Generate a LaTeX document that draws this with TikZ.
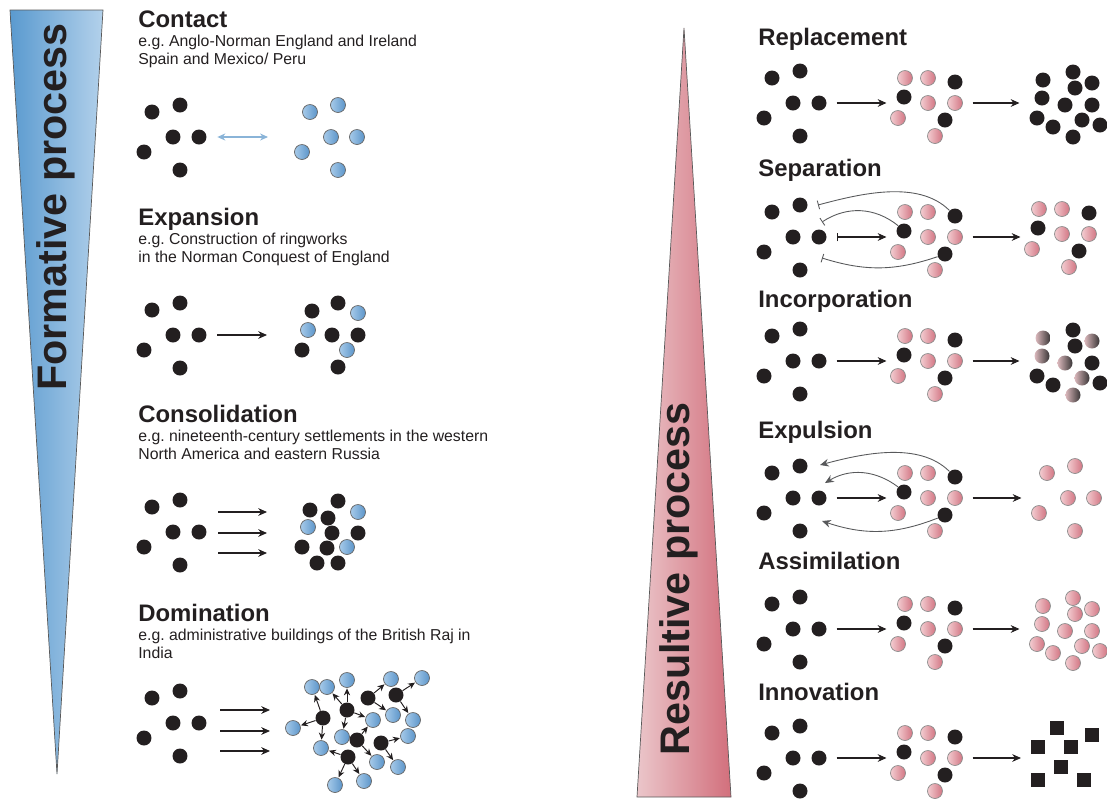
\documentclass[tikz,border=0pt]{standalone}
\usepackage{xcolor}
\usepackage{fontspec}
\setmainfont{Liberation Sans}
\usepackage{tikz}
\usetikzlibrary{arrows.meta, positioning, shapes.geometric}

\definecolor{ink}{HTML}{231F20}
\definecolor{wedgeblueL}{HTML}{5A9ACF}
\definecolor{wedgeblueR}{HTML}{B3D1EB}
\definecolor{wedgepinkL}{HTML}{EBC6CA}
\definecolor{wedgepinkR}{HTML}{D26F7C}
\definecolor{dotblueL}{HTML}{A6CAE9}
\definecolor{dotblueR}{HTML}{5B95CA}
\definecolor{dotpinkL}{HTML}{F3CDD1}
\definecolor{dotpinkR}{HTML}{D27583}
\definecolor{curvegray}{HTML}{58595B}
\definecolor{contactblue}{HTML}{8AB4D8}

\begin{document}
\begin{tikzpicture}[x=0.02cm, y=-0.02cm,
    blk/.style={circle, fill=ink, minimum size=0.3cm, inner sep=0pt},
    blu/.style={circle, draw=black!60, line width=0.4pt, left color=dotblueL, right color=dotblueR, minimum size=0.3cm, inner sep=0pt},
    pnk/.style={circle, draw=black!45, line width=0.4pt, left color=dotpinkL, right color=dotpinkR, minimum size=0.3cm, inner sep=0pt},
    mix/.style={circle, left color=dotpinkL!90!black, right color=ink!90, minimum size=0.3cm, inner sep=0pt},
    sqr/.style={rectangle, fill=ink, minimum size=0.28cm, inner sep=0pt},
    head/.style={anchor=base west, inner sep=0pt, text=ink, font=\fontsize{13.6}{16}\selectfont\bfseries},
    sub/.style={anchor=base west, inner sep=0pt, text=ink, font=\fontsize{9}{10.8}\selectfont},
    side/.style={anchor=base, inner sep=0pt, rotate=90, text=ink, font=\fontsize{23.5}{26}\selectfont\bfseries},
    arr/.style={-{Stealth[length=5pt, width=4.4pt]}, line width=0.6pt, draw=ink},
    gap/.style={shorten <=5.5pt, shorten >=5.5pt},
    net/.style={-{Stealth[length=4pt, width=3.6pt]}, line width=0.55pt, draw=ink, shorten >=0.3pt},
    cut/.style={-{Bar[width=5pt]}, line width=0.5pt, draw=curvegray},
    back/.style={-{Stealth[length=5pt, width=4.4pt]}, line width=0.5pt, draw=curvegray},
]
\useasboundingbox (0,0) rectangle (1107,799);

% Wedges
\draw[draw=black!65, line width=0.4pt, left color=wedgeblueL, right color=wedgeblueR] (10,10) -- (103,10) -- (57,774) -- cycle;
\draw[draw=black!65, line width=0.4pt, left color=wedgepinkL, right color=wedgepinkR] (684,28) -- (731,797) -- (637,797) -- cycle;
\node[side] (formative) at (67,207) {Formative process};
\node[side] (resultive) at (689,579) {Resultive process};

% Headings, formative side
\node[head] (con-head) at (138,27) {Contact};
\node[sub] (con-sub1) at (138,46) {e.g.\ Anglo-Norman England and Ireland};
\node[sub] (con-sub2) at (138,64) {Spain and Mexico/ Peru};
\node[head] (exp-head) at (138,225) {Expansion};
\node[sub] (exp-sub1) at (138,244) {e.g.\ Construction of ringworks};
\node[sub] (exp-sub2) at (138,262) {in the Norman Conquest of England};
\node[head] (cns-head) at (138,422) {Consolidation};
\node[sub] (cns-sub1) at (138,441) {e.g.\ nineteenth-century settlements in the western};
\node[sub] (cns-sub2) at (138,459) {North America and eastern Russia};
\node[head] (dom-head) at (138,621) {Domination};
\node[sub] (dom-sub1) at (138,640) {e.g.\ administrative buildings of the British Raj in};
\node[sub] (dom-sub2) at (138,658) {India};

% Headings, resultive side
\node[head] (rep-head) at (758,45) {Replacement};
\node[head] (sep-head) at (758,176) {Separation};
\node[head] (inc-head) at (758,307) {Incorporation};
\node[head] (exl-head) at (758,438) {Expulsion};
\node[head] (asm-head) at (758,569) {Assimilation};
\node[head] (inn-head) at (758,700) {Innovation};

% Starting groups
\foreach \nm/\cx/\cy in {con/173/137, exp/173/335, cns/173/532, dom/173/723,
    rep/793/103, sep/793/237, inc/793/361, exl/793/498, asm/793/629, inn/793/758}
  \foreach \dx/\dy [count=\i] in {-21/-25, 7/-32, 0/0, 26/0, -29/15, 7/33}
    \node[blk] (\nm-l\i) at (\cx+\dx,\cy+\dy) {};

% Contact
\foreach \dx/\dy [count=\i] in {-21/-25, 7/-32, 0/0, 26/0, -29/15, 7/33}
  \node[blu] (con-r\i) at (331+\dx,137+\dy) {};
\coordinate (con-tip) at (268,137);
\draw[{Stealth[length=4.5pt, width=4pt]}-{Stealth[length=4.5pt, width=4pt]}, line width=0.6pt, draw=contactblue, shorten <=6pt] (con-l4) -- (con-tip);

% Expansion
\foreach \px/\py/\st [count=\i] in {312/311/blk, 338/303/blk, 358/313/blu, 308/330/blu, 332/335/blk,
    358/335/blk, 302/350/blk, 347/350/blu, 338/367/blk}
  \node[\st] (exp-r\i) at (\px,\py) {};
\coordinate (exp-tip) at (267,335);
\draw[arr, shorten <=6pt] (exp-l4) -- (exp-tip);

% Consolidation
\foreach \px/\py/\st [count=\i] in {310/510/blk, 338/501/blk, 358/512/blu, 328/518/blk, 308/527/blu, 332/533/blk,
    358/533/blk, 302/547/blk, 327/548/blk, 347/547/blu, 317/563/blk, 338/563/blk}
  \node[\st] (cns-r\i) at (\px,\py) {};
\foreach \k/\yy in {1/512, 2/533, 3/553} {
  \coordinate (cns-s\k) at (218,\yy);
  \coordinate (cns-t\k) at (267,\yy);
  \draw[arr] (cns-s\k) -- (cns-t\k);
}

% Domination
\foreach \k/\yy in {1/710, 2/731, 3/751} {
  \coordinate (dom-s\k) at (220,\yy);
  \coordinate (dom-t\k) at (270,\yy);
  \draw[arr] (dom-s\k) -- (dom-t\k);
}
\foreach \px/\py [count=\i] in {312/687, 327/687, 347/680, 391/679, 422/678, 293/728, 373/720, 393/715,
    413/720, 342/737, 408/736, 321/748, 377/762, 398/767, 335/785, 364/781}
  \node[blu] (dom-b\i) at (\px,\py) {};
\foreach \px/\py [count=\i] in {323/718, 347/710, 368/698, 396/695, 357/740, 381/743, 348/757}
  \node[blk] (dom-k\i) at (\px,\py) {};
\foreach \a/\b in {1/1, 1/6, 1/12, 2/2, 2/3, 2/10, 2/7, 3/4, 3/8, 4/5, 4/9, 5/7, 5/13, 6/11, 6/14, 7/12, 7/15, 7/16}
  \draw[net] (dom-k\a) -- (dom-b\b);

% Middle groups, resultive side
\foreach \nm/\cy in {rep/103, sep/237, inc/361, exl/498, asm/629, inn/758}
  \foreach \dx/\dy/\st [count=\i] in {-23/-25/pnk, 0/-25/pnk, 27/-21/blk, -24/-6/blk, 0/0/pnk,
      27/0/pnk, -30/15/pnk, 17/17/blk, 7/33/pnk}
    \node[\st] (\nm-m\i) at (928+\dx,\cy+\dy) {};

% Replacement, Incorporation, Assimilation
\foreach \nm/\cy/\sa/\sb in {rep/103/blk/blk, inc/361/mix/blk, asm/629/pnk/pnk}
  \foreach \dx/\dy/\k [count=\i] in {-22/-23/a, 8/-31/b, 27/-20/a, 10/-15/b, -23/-5/a, 0/2/a,
      27/2/b, -28/15/b, -12/24/b, 17/17/a, 35/22/b, 8/34/a}
    \node[\csname s\k\endcsname] (\nm-r\i) at (1065+\dx,\cy+\dy) {};

% Separation
\foreach \dx/\dy/\st [count=\i] in {-23/-25/pnk, 0/-25/pnk, 27/-21/blk, -24/-6/blk, 0/0/pnk,
    27/0/pnk, -30/15/pnk, 17/17/blk, 7/33/pnk}
  \node[\st] (sep-r\i) at (1062+\dx,234+\dy) {};
\coordinate (sep-c1) at (818,205);
\coordinate (sep-c2) at (822,222);
\coordinate (sep-c3) at (822,258);
\draw[cut] (sep-m3) to[out=135, in=15, looseness=0.85] (sep-c1);
\draw[cut] (sep-m4) to[bend right=36] (sep-c2);
\draw[cut] (sep-m8) to[bend left=18] (sep-c3);

% Expulsion
\foreach \dx/\dy [count=\i] in {-21/-25, 7/-32, 0/0, 26/0, -29/15, 7/33}
  \node[pnk] (exl-r\i) at (1068+\dx,498+\dy) {};
\coordinate (exl-c1) at (820,465);
\coordinate (exl-c2) at (825,483);
\coordinate (exl-c3) at (822,521);
\draw[back] (exl-m3) to[out=135, in=15, looseness=0.85] (exl-c1);
\draw[back] (exl-m4) to[bend right=34] (exl-c2);
\draw[back] (exl-m8) to[bend left=20] (exl-c3);

% Innovation
\foreach \px/\py [count=\i] in {1057/728, 1092/735, 1038/747, 1071/747, 1061/767, 1038/780, 1084/780}
  \node[sqr] (inn-r\i) at (\px,\py) {};

% Row arrows
\foreach \nm in {rep, inc, exl, asm, inn}
  \draw[arr, gap] (\nm-l4) -- (\nm-l4 -| \nm-m4.west);
\draw[{Bar[width=5pt]}-{Stealth[length=5pt, width=4.4pt]}, line width=0.6pt, draw=ink, gap] (sep-l4) -- (sep-l4 -| sep-m4.west);
\draw[arr, gap] (rep-m6) -- (rep-m6 -| rep-r8.west);
\draw[arr, gap] (sep-m6) -- (sep-m6 -| sep-r4.west);
\draw[arr, gap] (inc-m6) -- (inc-m6 -| inc-r8.west);
\draw[arr, gap] (exl-m6) -- (exl-m6 -| exl-r5.west);
\draw[arr, gap] (asm-m6) -- (asm-m6 -| asm-r8.west);
\draw[arr, gap] (inn-m6) -- (inn-m6 -| inn-r3.west);

\end{tikzpicture}
\end{document}
